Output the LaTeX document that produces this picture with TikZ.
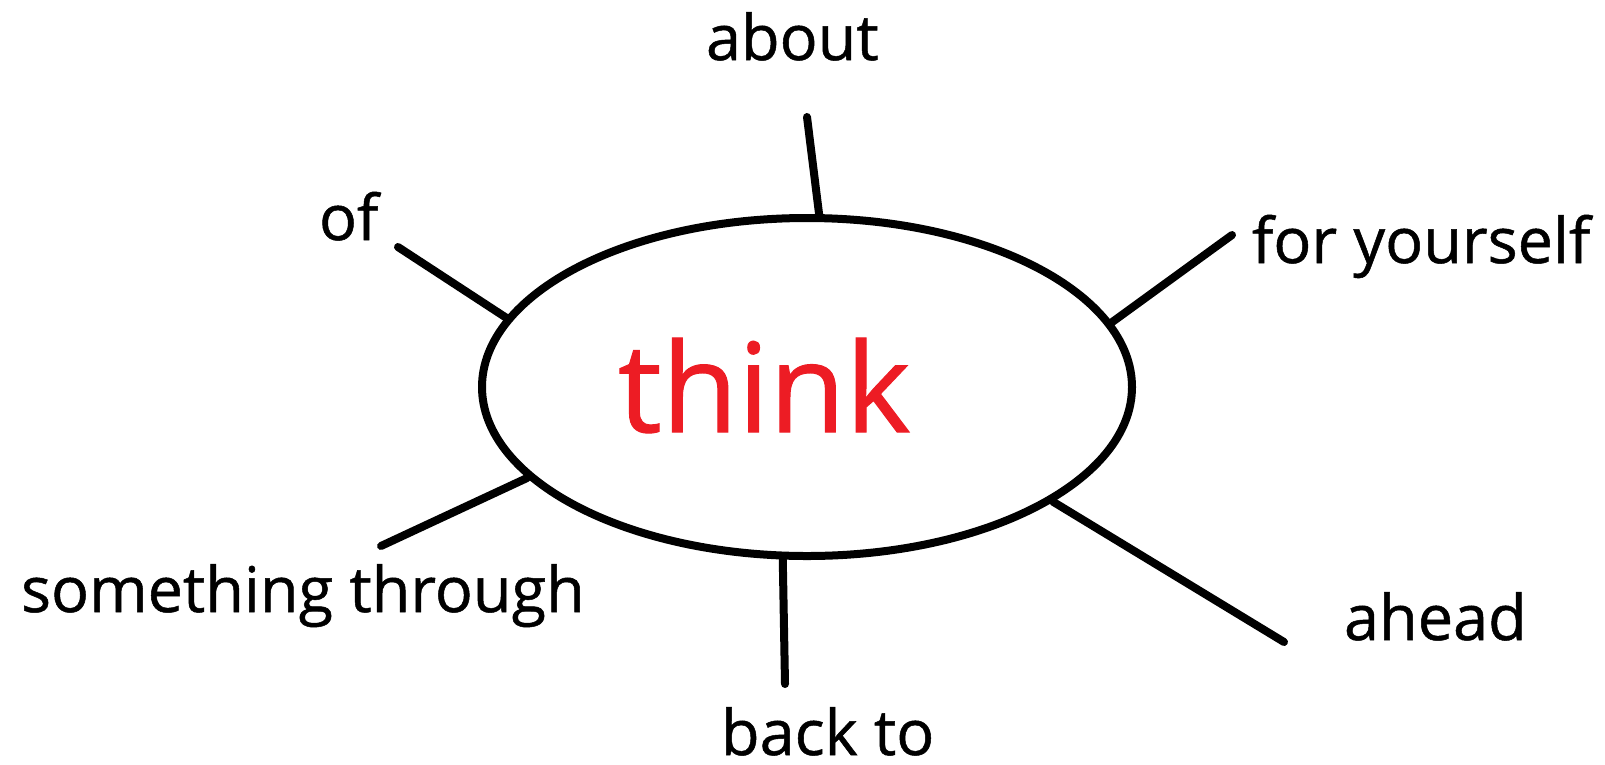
\documentclass[tikz,border=0pt]{standalone}
\usepackage{fontspec}
\setmainfont{Open Sans}[FakeBold=0.8]
\usetikzlibrary{shapes.geometric}
\definecolor{paintred}{RGB}{237,28,36}
\begin{document}
\begin{tikzpicture}[x=1pt,y=-1pt,line width=8pt,line cap=round,
    word/.style={anchor=base west,inner sep=0pt,font=\fontsize{63}{70}\selectfont},
    spoke/.style={draw,line width=8pt,line cap=round}]
    \useasboundingbox (0,0) rectangle (1605,764);
    \node[draw,ellipse,minimum width=650pt,minimum height=338pt,inner sep=0pt] (think) at (807,387) {};
    \node[anchor=base west,inner sep=0pt,text=paintred,font=\fontsize{124}{130}\selectfont] (verb) at (614,432) {think};
    \node[word] (about) at (702,60) {about};
    \node[word] (of) at (315,240) {of};
    \node[word] (yourself) at (1248,263) {for yourself};
    \node[word] (through) at (17,612) {something through};
    \node[word] (ahead) at (1340,640) {ahead};
    \node[word] (backto) at (717,755) {back to};
    \coordinate (e-about) at (807,117);
    \coordinate (e-yourself) at (1232,235);
    \coordinate (e-ahead) at (1284,642);
    \coordinate (e-backto) at (785,684);
    \coordinate (e-through) at (381,546);
    \coordinate (e-of) at (398,247);
    \draw[spoke] (think.86.6) -- (e-about);
    \draw[spoke] (think.12.5) -- (e-yourself);
    \draw[spoke] (think.-25.5) -- (e-ahead);
    \draw[spoke] (think.262.7) -- (e-backto);
    \draw[spoke] (think.198.6) -- (e-through);
    \draw[spoke] (think.167) -- (e-of);
\end{tikzpicture}
\end{document}
